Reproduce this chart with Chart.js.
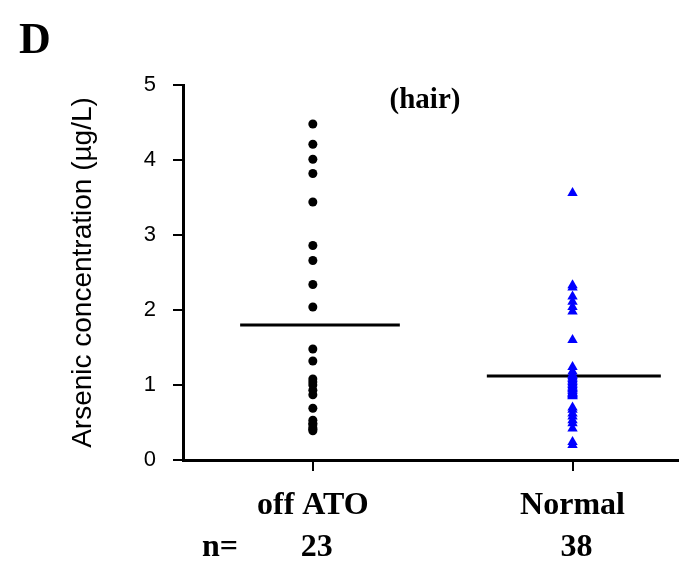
<!DOCTYPE html>
<html>
<head>
<meta charset="utf-8">
<script src="https://cdn.jsdelivr.net/npm/chart.js@4"></script>
<style>
  html, body { margin: 0; padding: 0; background: #fff; }
  #wrap { width: 679px; height: 563px; }
</style>
</head>
<body>
<div id="wrap"><canvas id="chart" width="679" height="563"></canvas></div>
<script>
// ===== Data =====
const categories = ["off ATO", "Normal"];
const offAtoValues = [4.48, 4.21, 4.01, 3.82, 3.44, 2.86, 2.66, 2.34, 2.04,
  1.48, 1.32, 1.08, 1.04, 1.0, 0.93, 0.87, 0.69, 0.53, 0.49, 0.47, 0.43, 0.41, 0.39];
const normalValues = [3.56, 2.33, 2.30, 2.18, 2.11, 2.04, 1.98, 1.60, 1.24, 1.18,
  1.14, 1.12, 1.10, 1.08, 1.06, 1.04, 1.02, 1.00, 0.98, 0.96, 0.95, 0.94, 0.92,
  0.90, 0.89, 0.88, 0.87, 0.86, 0.85,
  0.70, 0.67, 0.62, 0.58, 0.53, 0.49, 0.42, 0.24, 0.20];
const meanValues = [1.80, 1.12];
const meanSpans = [[0.72, 1.335], [1.67, 2.34]];
const yTicks = [0, 1, 2, 3, 4, 5];

const serif = "'Liberation Serif', 'Times New Roman', serif";
const sans = "'Liberation Sans', Arial, sans-serif";

// ===== Extra text (panel letter, subtitle, n row) =====
const textPlugin = {
  id: "panelText",
  afterDraw(chart) {
    const ctx = chart.ctx;
    const x = chart.scales.x;
    ctx.save();
    ctx.fillStyle = "#000";
    ctx.textBaseline = "middle";
    ctx.textAlign = "left";
    ctx.font = "bold 44px " + serif;
    ctx.fillText("D", 19, 42);
    ctx.textAlign = "center";
    ctx.font = "bold 29px " + serif;
    ctx.fillText("(hair)", 425, 101);
    ctx.font = "bold 32px " + serif;
    ctx.fillText("n=", 220, 548);
    const counts = [offAtoValues.length, normalValues.length];
    counts.forEach((n, i) => {
      ctx.fillText(String(n), x.getPixelForValue(i + 1) + 4, 548);
    });
    ctx.restore();
  }
};

const ctx = document.getElementById("chart").getContext("2d");

new Chart(ctx, {
  type: "scatter",
  data: {
    datasets: [
      {
        label: categories[0],
        data: offAtoValues.map((v) => ({ x: 1, y: v })),
        pointStyle: "circle",
        pointRadius: 4.5,
        backgroundColor: "#000",
        borderColor: "#000",
        borderWidth: 0
      },
      {
        label: categories[1],
        data: normalValues.map((v) => ({ x: 2, y: v })),
        pointStyle: "triangle",
        pointRadius: 6,
        backgroundColor: "#0000ff",
        borderColor: "#0000ff",
        borderWidth: 0
      },
      ...meanValues.map((m, i) => ({
        type: "line",
        label: "mean " + categories[i],
        data: [{ x: meanSpans[i][0], y: m }, { x: meanSpans[i][1], y: m }],
        borderColor: "#000",
        borderWidth: 3,
        pointRadius: 0,
        fill: false
      }))
    ]
  },
  options: {
    responsive: false,
    animation: false,
    layout: { autoPadding: false, padding: { top: 85, right: 0, bottom: 0, left: 0 } },
    plugins: {
      legend: { display: false },
      tooltip: { enabled: false }
    },
    scales: {
      x: {
        type: "linear",
        min: 0.5,
        max: 2.41,
        afterFit: (scale) => { scale.height = 103; },
        afterBuildTicks: (scale) => { scale.ticks = [{ value: 1 }, { value: 2 }]; },
        grid: { drawOnChartArea: false, drawTicks: true, tickLength: 11, color: "#000", lineWidth: 2 },
        border: { display: true, color: "#000", width: 3 },
        ticks: {
          color: "#000",
          padding: 16,
          maxRotation: 0,
          font: { family: serif, size: 32, weight: "bold" },
          callback: (v) => categories[v - 1] || ""
        }
      },
      y: {
        min: 0,
        max: 5,
        afterFit: (scale) => { scale.width = 183; },
        afterBuildTicks: (scale) => { scale.ticks = yTicks.map((v) => ({ value: v })); },
        grid: { drawOnChartArea: false, drawTicks: true, tickLength: 10, color: "#000", lineWidth: 2 },
        border: { display: true, color: "#000", width: 3 },
        ticks: {
          color: "#000",
          padding: 17,
          font: { family: sans, size: 22 }
        },
        title: {
          display: true,
          text: "Arsenic concentration (\u00b5g/L)",
          color: "#000",
          font: { family: sans, size: 28 },
          padding: { top: 66, bottom: 0 }
        }
      }
    }
  },
  plugins: [textPlugin]
});
</script>
</body>
</html>
